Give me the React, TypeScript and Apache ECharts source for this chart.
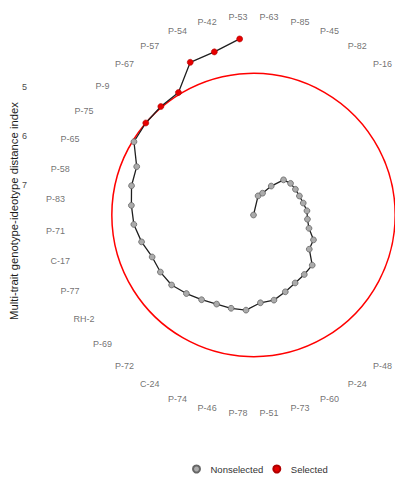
import React, { useEffect, useRef } from "react";
import * as echarts from "echarts";

// Genotypes in angular order (clockwise from the top); entries 6-15 fall outside the visible crop.
const genotypes = [
  "P-63", "P-85", "P-45", "P-82", "P-16",
  "#06", "#07", "#08", "#09", "#10", "#11", "#12", "#13", "#14", "#15",
  "P-48", "P-24", "P-60", "P-73", "P-51", "P-78", "P-46", "P-74", "C-24",
  "P-72", "P-69", "RH-2", "P-77", "C-17", "P-71", "P-83", "P-58", "P-65",
  "P-75", "P-9", "P-67", "P-57", "P-54", "P-42", "P-53",
];

// Multi-trait genotype-ideotype distance index (MGIDI)
const mgidi = [
  7.61, 7.21, 7.13, 6.92, 6.67,
  6.62, 6.61, 6.60, 6.57, 6.52, 6.51, 6.45, 6.29, 6.28, 6.04,
  6.02, 5.99, 5.92, 5.83, 5.82, 5.67, 5.66, 5.65, 5.59,
  5.51, 5.42, 5.39, 5.38, 5.27, 5.17, 5.12, 5.06, 5.04,
  4.76, 4.73, 4.71, 4.69, 4.25, 4.20, 4.02,
];

const selectedGenotypes = ["P-9", "P-67", "P-57", "P-54", "P-42", "P-53"];
const radialTicks = [5, 6, 7];
const legendNames = ["Nonselected", "Selected"];
const axisTitle = "Multi-trait genotype-ideotype distance index";

const FONT = "'Liberation Sans', Arial, sans-serif";

export default function App() {
  const ref = useRef<HTMLDivElement>(null);

  useEffect(() => {
    if (!ref.current) return;
    const chart = echarts.init(ref.current, undefined, { renderer: "svg" });

    const vMin = Math.min(...mgidi);
    const vMax = Math.max(...mgidi);
    const cx = 253.5;
    const cy = 215;
    const R = 176.6;
    // theta labels sit at 0.45 of the plot while the data reach 0.40 (ggplot coord_polar)
    const labelFactor = 0.45 / 0.4;
    const vLabel = vMax - labelFactor * (vMax - vMin);

    const isSel = (g: string) => selectedGenotypes.includes(g);
    const cutpoint = Math.max(
      ...genotypes.map((g, i) => (isSel(g) ? mgidi[i] : -Infinity))
    );

    const lineData = genotypes.map((g, i) => [mgidi[i], i]);
    const nonSel = genotypes
      .map((g, i) => (isSel(g) ? null : [mgidi[i], i]))
      .filter(Boolean);
    const sel = genotypes
      .map((g, i) => (isSel(g) ? [mgidi[i], i] : null))
      .filter(Boolean);
    const labelData = genotypes.map((g, i) => [vLabel, i]);

    chart.setOption({
      animation: false,
      backgroundColor: "#FFFFFF",
      textStyle: { fontFamily: FONT },
      polar: { center: [cx, cy], radius: R },
      angleAxis: {
        type: "category",
        data: genotypes,
        startAngle: 90,
        clockwise: true,
        boundaryGap: true,
        axisLine: { show: false },
        axisTick: { show: false },
        splitLine: { show: false },
        axisLabel: { show: false },
      },
      radiusAxis: {
        type: "value",
        min: vMin,
        max: vMax,
        inverse: true,
        axisLine: { show: false },
        axisTick: { show: false },
        axisLabel: { show: false },
        splitLine: { show: false },
      },
      grid: { left: 29, top: cy - R, width: 1, height: R },
      xAxis: { type: "value", show: false },
      yAxis: {
        type: "value",
        min: vMin,
        max: vMax,
        inverse: true,
        axisLine: { show: false },
        axisTick: { show: false },
        splitLine: { show: false },
        axisLabel: {
          customValues: radialTicks,
          margin: 2,
          fontSize: 9,
          fontFamily: FONT,
          color: "#4D4D4D",
        },
      },
      legend: {
        data: legendNames,
        left: 192,
        top: 464,
        padding: 0,
        icon: "circle",
        itemWidth: 18,
        itemHeight: 7,
        itemGap: 9,
        textStyle: { fontSize: 9.5, fontFamily: FONT, color: "#333333" },
      },
      graphic: [
        {
          type: "text",
          x: 14,
          y: 211,
          rotation: Math.PI / 2,
          style: {
            text: axisTitle,
            font: `11.3px ${FONT}`,
            fill: "#1A1A1A",
            textAlign: "center",
            textVerticalAlign: "middle",
          },
        },
      ],
      series: [
        {
          type: "scatter",
          coordinateSystem: "polar",
          data: labelData,
          symbolSize: 1,
          clip: false,
          silent: true,
          z: 0,
          itemStyle: { color: "rgba(0,0,0,0)" },
          label: {
            show: true,
            position: "inside",
            align: "center",
            verticalAlign: "middle",
            fontSize: 9,
            fontFamily: FONT,
            color: "#4D4D4D",
            formatter: (p: any) => {
              const g = genotypes[p.dataIndex];
              return g.startsWith("#") ? "" : g;
            },
          },
          labelLayout: { hideOverlap: false },
        },
        {
          type: "custom",
          coordinateSystem: "polar",
          silent: true,
          z: 1,
          data: [[cutpoint, 0]],
          renderItem: (params: any, api: any) => {
            const cs = params.coordSys;
            const p = api.coord([api.value(0), api.value(1)]);
            const r = Math.hypot(p[0] - cs.cx, p[1] - cs.cy);
            return {
              type: "circle",
              shape: { cx: cs.cx, cy: cs.cy, r },
              style: { fill: "transparent", stroke: "#FF0000", lineWidth: 1.5 },
            };
          },
        },
        {
          type: "line",
          coordinateSystem: "polar",
          data: lineData,
          showSymbol: false,
          z: 2,
          lineStyle: { color: "#1F1F1F", width: 1.3 },
          silent: true,
        },
        {
          name: "Nonselected",
          type: "scatter",
          coordinateSystem: "polar",
          data: nonSel,
          symbol: "circle",
          symbolSize: 5.8,
          z: 3,
          itemStyle: { color: "#ABABAB", borderColor: "#666666", borderWidth: 0.8, opacity: 1 },
        },
        {
          name: "Selected",
          type: "scatter",
          coordinateSystem: "polar",
          data: sel,
          symbol: "circle",
          symbolSize: 6,
          z: 3,
          itemStyle: { color: "#E60000", borderColor: "#B00000", borderWidth: 0.6, opacity: 1 },
        },
      ],
    });

    return () => chart.dispose();
  }, []);

  return (
    <div
      ref={ref}
      style={{ position: "absolute", left: 0, top: 0, width: 395, height: 477 }}
    />
  );
}
